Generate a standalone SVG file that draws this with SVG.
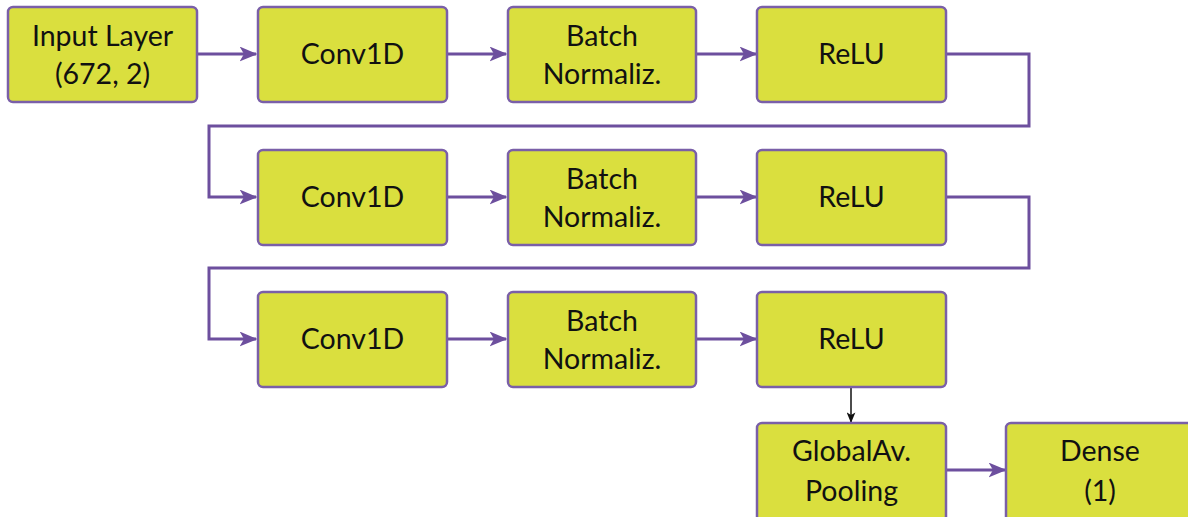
<svg xmlns="http://www.w3.org/2000/svg" width="1188" height="517" viewBox="0 0 1188 517">
  <style>
    .box { fill: #dadf3e; stroke: #7a5fa8; stroke-width: 2.5; }
    .lbl { font-family: Lato, "Open Sans", sans-serif; font-size: 28.5px; fill: #111; text-anchor: middle; }
    .flow { fill: none; stroke: #6d4f9e; stroke-width: 3; marker-end: url(#arrow); }
    .drop { fill: none; stroke: #111; stroke-width: 1.5; marker-end: url(#arrowBlack); }
  </style>
  <defs>
    <marker id="arrow" viewBox="0 0 12 10" refX="11" refY="5" markerWidth="6" markerHeight="5" markerUnits="strokeWidth" orient="auto">
      <path d="M0,0 L12,5 L0,10 L3,5 Z" fill="#6d4f9e"/>
    </marker>
    <marker id="arrowBlack" viewBox="0 0 12 10" refX="11" refY="5" markerWidth="7" markerHeight="6" markerUnits="strokeWidth" orient="auto">
      <path d="M0,0 L12,5 L0,10 L3,5 Z" fill="#111"/>
    </marker>
  </defs>

  <!-- connectors -->
  <g id="connectors">
    <path class="flow" d="M197,54 H256"/>
    <path class="flow" d="M447,54 H506"/>
    <path class="flow" d="M696,54 H756"/>
    <path class="flow" d="M946,54 H1029 V126 H209 V197 H256"/>
    <path class="flow" d="M447,197 H506"/>
    <path class="flow" d="M696,197 H756"/>
    <path class="flow" d="M946,197 H1029 V268 H209 V339 H256"/>
    <path class="flow" d="M447,339 H506"/>
    <path class="flow" d="M696,339 H756"/>
    <path class="drop" d="M851,388 V422"/>
    <path class="flow" d="M946,470 H1005"/>
  </g>

  <!-- row 1 -->
  <g id="input">
    <rect class="box" x="8" y="7" width="189" height="95" rx="5"/>
    <text class="lbl" x="102.5" y="46">Input Layer</text>
    <text class="lbl" x="102.5" y="84">(672, 2)</text>
  </g>
  <g id="conv1">
    <rect class="box" x="258" y="7" width="189" height="95" rx="5"/>
    <text class="lbl" x="352.5" y="64">Conv1D</text>
  </g>
  <g id="bn1">
    <rect class="box" x="508" y="7" width="188" height="95" rx="5"/>
    <text class="lbl" x="602" y="46">Batch</text>
    <text class="lbl" x="602" y="84">Normaliz.</text>
  </g>
  <g id="relu1">
    <rect class="box" x="757" y="7" width="189" height="95" rx="5"/>
    <text class="lbl" x="851.5" y="64">ReLU</text>
  </g>

  <!-- row 2 -->
  <g id="conv2">
    <rect class="box" x="258" y="150" width="189" height="95" rx="5"/>
    <text class="lbl" x="352.5" y="207">Conv1D</text>
  </g>
  <g id="bn2">
    <rect class="box" x="508" y="150" width="188" height="95" rx="5"/>
    <text class="lbl" x="602" y="189">Batch</text>
    <text class="lbl" x="602" y="227">Normaliz.</text>
  </g>
  <g id="relu2">
    <rect class="box" x="757" y="150" width="189" height="95" rx="5"/>
    <text class="lbl" x="851.5" y="207">ReLU</text>
  </g>

  <!-- row 3 -->
  <g id="conv3">
    <rect class="box" x="258" y="292" width="189" height="95" rx="5"/>
    <text class="lbl" x="352.5" y="349">Conv1D</text>
  </g>
  <g id="bn3">
    <rect class="box" x="508" y="292" width="188" height="95" rx="5"/>
    <text class="lbl" x="602" y="331">Batch</text>
    <text class="lbl" x="602" y="369">Normaliz.</text>
  </g>
  <g id="relu3">
    <rect class="box" x="757" y="292" width="189" height="95" rx="5"/>
    <text class="lbl" x="851.5" y="349">ReLU</text>
  </g>

  <!-- head -->
  <g id="gap">
    <rect class="box" x="757" y="423" width="189" height="100" rx="5"/>
    <text class="lbl" x="851.5" y="461">GlobalAv.</text>
    <text class="lbl" x="851.5" y="501">Pooling</text>
  </g>
  <g id="dense">
    <rect class="box" x="1006" y="423" width="189" height="100" rx="5"/>
    <text class="lbl" x="1100" y="461">Dense</text>
    <text class="lbl" x="1100" y="501">(1)</text>
  </g>
</svg>
